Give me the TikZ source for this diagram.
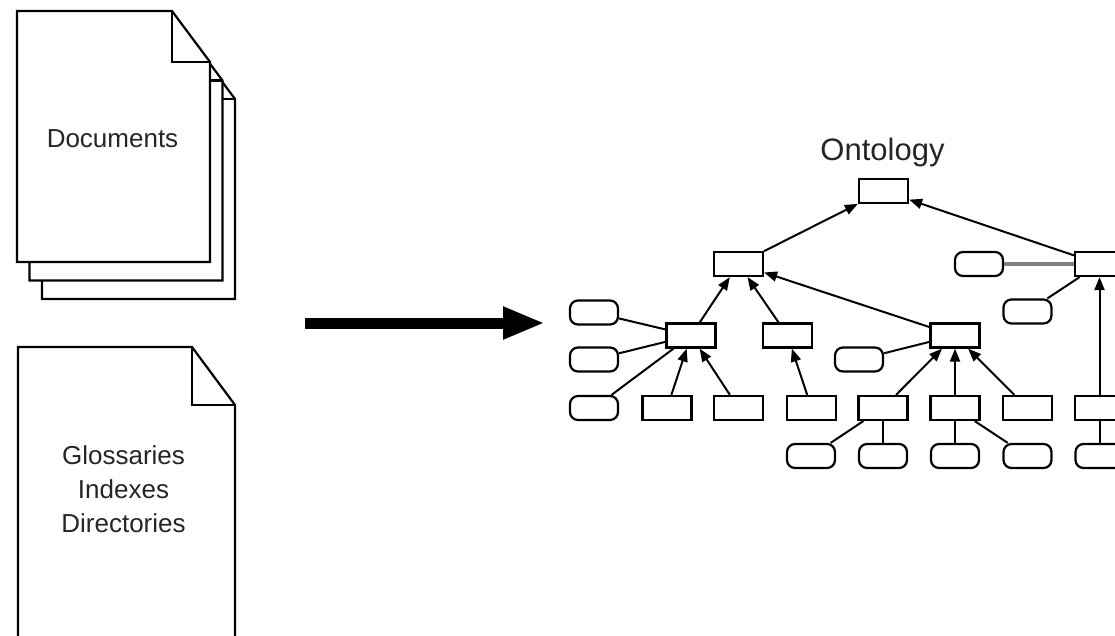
\documentclass[tikz,border=0pt]{standalone}
\usepackage{fontspec}
\setmainfont{Liberation Sans}
\usetikzlibrary{arrows.meta}
\newcommand\docpagepath[6]{%
  \draw[page] (#1,#2) -- (#3-#5,#2) -- (#3,#2+#6) -- (#3,#4) -- (#1,#4) -- cycle;
  \draw[page,fill=none] (#3-#5,#2) -- (#3-#5,#2+#6) -- (#3,#2+#6);}
\begin{document}
\begin{tikzpicture}[x=1pt,y=-1pt,
  box/.style={draw, line width=2.2pt, minimum width=49pt, minimum height=24pt, inner sep=0pt, fill=white},
  oval/.style={draw, line width=2.2pt, minimum width=48pt, minimum height=24pt, rounded corners=8pt, inner sep=0pt, fill=white},
  arr/.style={line width=2pt, -{Triangle[length=13pt,width=10pt]}},
  ln/.style={line width=2pt},
  grayln/.style={line width=3.5pt, draw=black!50},
  page/.style={draw, line width=2.2pt, fill=white, line join=miter},
  lbl/.style={font=\fontsize{26}{34}\selectfont, anchor=base, inner sep=0pt, text=black!85},
  bigarr/.style={line width=11pt, -{Triangle[length=42pt,width=30pt]}}]
\useasboundingbox (0,0) rectangle (1115,635);
% document stack
\docpagepath{42}{48}{235}{299}{38}{51}
\docpagepath{29.5}{29.5}{222.5}{280.5}{38}{51}
\docpagepath{17}{11}{210}{262}{38}{51}
\node[lbl] (docs) at (112.5,147) {Documents};
% glossaries page
\docpagepath{18}{347}{235}{660}{43}{58}
\node[lbl] (gloss) at (123.5,464) {Glossaries};
\node[lbl] (idx) at (123.5,498) {Indexes};
\node[lbl] (dirs) at (123.5,532) {Directories};
% big arrow
\coordinate (bigS) at (305,323);
\coordinate (bigE) at (545,323);
\draw[bigarr] (bigS) -- (bigE);
% ontology
\node[font=\fontsize{31}{37}\selectfont, anchor=base, inner sep=0pt, text=black!85] (ontlbl) at (882.5,160) {Ontology};
\node[box] (root) at (883.5,191) {};
\node[box] (A) at (738.5,264) {};
\node[box] (E) at (1099.5,264) {};
\node[oval] (oE1) at (979,264) {};
\node[oval] (oE2) at (1027.5,311.5) {};
\node[box] (B) at (691,335.5) {};
\node[box] (C) at (787.5,335.5) {};
\node[box] (D) at (955,335.5) {};
\node[oval] (oB1) at (594,312.5) {};
\node[oval] (oB2) at (594,359.5) {};
\node[oval] (oB3) at (594,408) {};
\node[oval] (oD) at (859,359.5) {};
\node[box] (b1) at (667,408) {};
\node[box] (b2) at (738.5,408) {};
\node[box] (b3) at (811.5,408) {};
\node[box] (b4) at (883,408) {};
\node[box] (b5) at (955,408) {};
\node[box] (b6) at (1027.5,408) {};
\node[box] (b7) at (1099.5,408) {};
\node[oval] (ob1) at (811,456) {};
\node[oval] (ob2) at (883,456) {};
\node[oval] (ob3) at (955,456) {};
\node[oval] (ob4) at (1027.5,456) {};
\node[oval] (ob5) at (1099.5,456) {};
% arrows
\draw[arr] (A) -- (root);
\draw[arr] (E) -- (root);
\draw[arr] (B) -- (A);
\draw[arr] (C) -- (A);
\draw[arr] (D) -- (A);
\draw[arr] (b1) -- (B);
\draw[arr] (b2) -- (B);
\draw[arr] (b3) -- (C);
\draw[arr] (b4) -- (D);
\draw[arr] (b5) -- (D);
\draw[arr] (b6) -- (D);
\draw[arr] (b7) -- (E);
% plain lines
\draw[ln] (oB1) -- (B);
\draw[ln] (oB2) -- (B);
\draw[ln] (oB3) -- (B);
\draw[ln] (oD) -- (D);
\draw[grayln] (oE1) -- (E);
\draw[ln] (oE2) -- (E);
\draw[ln] (ob1) -- (b4);
\draw[ln] (ob2) -- (b4);
\draw[ln] (ob3) -- (b5);
\draw[ln] (ob4) -- (b5);
\draw[ln] (ob5) -- (b7);
\end{tikzpicture}
\end{document}
